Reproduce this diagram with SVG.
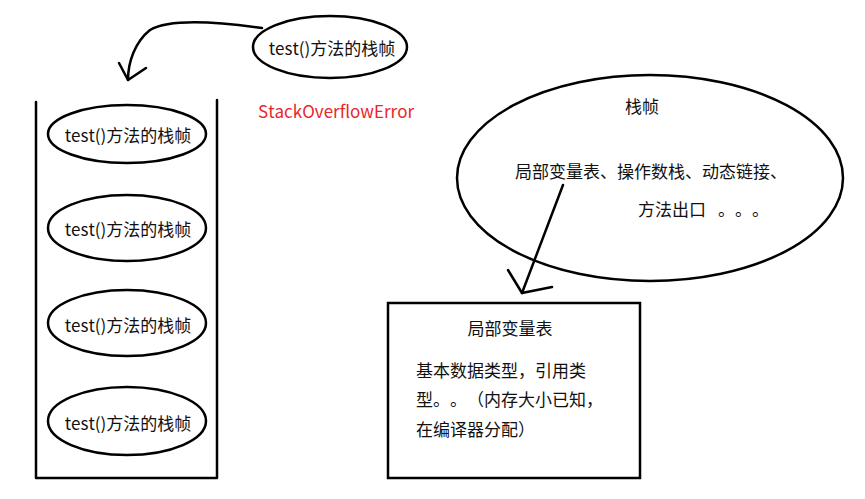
<svg xmlns="http://www.w3.org/2000/svg" width="865" height="499" viewBox="0 0 865 499">
<style>
text{font-family:"Noto Sans CJK SC","Microsoft YaHei",sans-serif;font-size:17px;fill:#111;font-kerning:none;font-feature-settings:"chws" 0,"halt" 0,"palt" 0;text-spacing-trim:space-all}
.c{text-anchor:middle;dominant-baseline:central}
.l{dominant-baseline:central}
.sh{fill:#fff;stroke:#000;stroke-width:2.5}
.ln{fill:none;stroke:#000;stroke-width:2.5;stroke-linecap:round;stroke-linejoin:round}
.red{fill:#e8262b}
</style>
<rect width="865" height="499" fill="#fff"/>
<g id="stack">
<path class="ln" d="M36,102 V478 H217 V100"/>
</g>
<g id="frame-top">
<ellipse class="sh" cx="330" cy="47" rx="77" ry="31"/>
<text class="c" x="332" y="47">test()方法的栈帧</text>
</g>
<g id="frame1">
<ellipse class="sh" cx="127" cy="134" rx="79" ry="29"/>
<text class="c" x="128" y="134">test()方法的栈帧</text>
</g>
<g id="frame2">
<ellipse class="sh" cx="127" cy="228" rx="79" ry="33"/>
<text class="c" x="128" y="228">test()方法的栈帧</text>
</g>
<g id="frame3">
<ellipse class="sh" cx="127" cy="323" rx="79" ry="33"/>
<text class="c" x="128" y="324">test()方法的栈帧</text>
</g>
<g id="frame4">
<ellipse class="sh" cx="127" cy="421" rx="79" ry="34"/>
<text class="c" x="128" y="422">test()方法的栈帧</text>
</g>
<g id="error">
<text class="l red" x="258" y="110">StackOverflowError</text>
</g>
<g id="stackframe">
<ellipse class="sh" cx="650" cy="178" rx="193" ry="103"/>
<text class="c" x="642" y="105">栈帧</text>
<text class="l" x="515" y="170">局部变量表、操作数栈、动态链接、</text>
<text class="l" x="638" y="208">方法出口<tspan x="718">。。。</tspan></text>
</g>
<g id="localvars">
<rect class="sh" x="388" y="303" width="252" height="175"/>
<text class="c" x="510" y="327">局部变量表</text>
<text class="l" x="416" y="369">基本数据类型，引用类</text>
<text class="l" x="416" y="398">型。。（内存大小已知，</text>
<text class="l" x="416" y="428">在编译器分配）</text>
</g>
<g id="connectors">
<path class="ln" d="M262,28 C220,22 170,18 150,30 C135,42 128,62 128,80"/>
<path class="ln" d="M119,63 L128,80 L146,68"/>
<path class="ln" d="M563,185 L522,293"/>
<path class="ln" d="M508,270 L522,293 L552,287"/>
</g>
</svg>
